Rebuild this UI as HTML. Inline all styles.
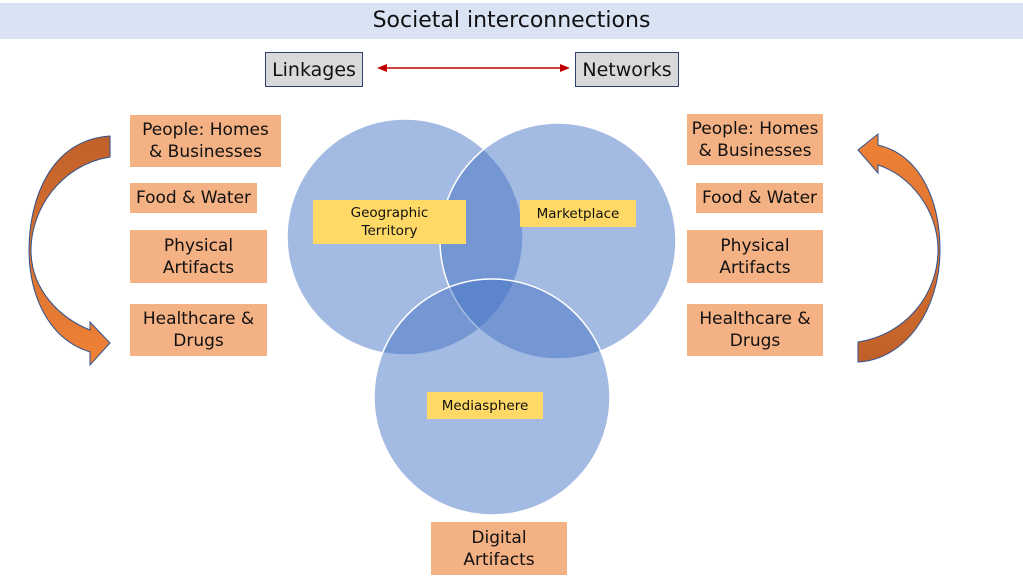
<!DOCTYPE html>
<html><head><meta charset="utf-8"><style>
body{margin:0;width:1023px;height:582px;background:#fff;position:relative;overflow:hidden;font-family:"DejaVu Sans","Liberation Sans",sans-serif;}
.b{position:absolute;display:flex;align-items:center;justify-content:center;text-align:center;box-sizing:border-box;line-height:22px;color:#111;}
.o{background:#f4b183;font-size:17px;}
.y{background:#ffd966;font-size:13.5px;line-height:18px;}
.g{background:#d9d9d9;border:1.5px solid #2f3f6f;font-size:19px;}
</style></head><body>
<div class="b" style="left:0;top:3px;width:1023px;height:36px;background:#dae3f3;font-size:22px;">Societal interconnections</div>
<div class="b g" style="left:265px;top:52px;width:98px;height:35px;">Linkages</div>
<div class="b g" style="left:575px;top:52px;width:104px;height:35px;">Networks</div>
<svg style="position:absolute;left:0;top:0" width="1023" height="582">
<defs>
<linearGradient id="gl" x1="0" y1="0" x2="0" y2="1"><stop offset="0" stop-color="#c0602a"/><stop offset="1" stop-color="#f08236"/></linearGradient>
<linearGradient id="gr" x1="0" y1="1" x2="0" y2="0"><stop offset="0" stop-color="#c0602a"/><stop offset="1" stop-color="#f08236"/></linearGradient>
</defs>
<line x1="385" y1="68" x2="562" y2="68" stroke="#c00000" stroke-width="1.5"/>
<polygon points="377,68 387,64 387,72" fill="#c00000"/>
<polygon points="570,68 560,64 560,72" fill="#c00000"/>
<g fill="#4472c4" fill-opacity="0.49" stroke="#fff" stroke-width="1.5">
<circle cx="405" cy="237" r="118"/>
<circle cx="558" cy="241" r="118"/>
<circle cx="492" cy="397" r="118"/>
</g>
<path d="M110,136 L110,157 C60,165 31,210 31,250 C31,290 60,318 90,330 L90,322 L110,343 L90,365 L90,352 C45,338 29,290 29,250 C29,200 50,140 110,136 Z" fill="url(#gl)" stroke="#2f528f" stroke-width="1"/>
<path d="M858,362 L858,342 C905,335 938,295 938,250 C938,210 910,175 878,165 L878,173 L858,150 L878,134 L878,145 C920,155 940,200 940,250 C940,310 905,360 858,362 Z" fill="url(#gr)" stroke="#2f528f" stroke-width="1"/>
</svg>
<div class="b o" style="left:130px;top:115px;width:151px;height:52px;">People: Homes<br>&amp; Businesses</div>
<div class="b o" style="left:130px;top:183px;width:127px;height:30px;">Food &amp; Water</div>
<div class="b o" style="left:130px;top:230px;width:137px;height:53px;">Physical<br>Artifacts</div>
<div class="b o" style="left:130px;top:304px;width:137px;height:52px;">Healthcare &amp;<br>Drugs</div>
<div class="b o" style="left:687px;top:114px;width:136px;height:51px;">People: Homes<br>&amp; Businesses</div>
<div class="b o" style="left:696px;top:183px;width:127px;height:30px;">Food &amp; Water</div>
<div class="b o" style="left:687px;top:230px;width:136px;height:53px;">Physical<br>Artifacts</div>
<div class="b o" style="left:687px;top:304px;width:136px;height:52px;">Healthcare &amp;<br>Drugs</div>
<div class="b o" style="left:431px;top:522px;width:136px;height:53px;">Digital<br>Artifacts</div>
<div class="b y" style="left:313px;top:200px;width:153px;height:44px;">Geographic<br>Territory</div>
<div class="b y" style="left:520px;top:200px;width:116px;height:27px;">Marketplace</div>
<div class="b y" style="left:427px;top:392px;width:116px;height:27px;">Mediasphere</div>
</body></html>
